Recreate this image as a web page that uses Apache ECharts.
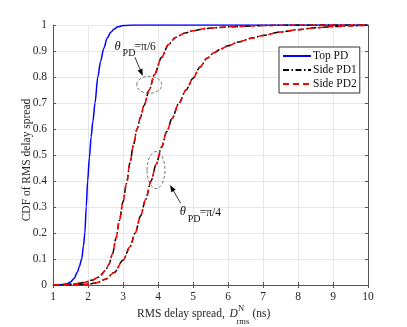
<!DOCTYPE html>
<html>
<head>
<meta charset="utf-8">
<script src="https://cdn.jsdelivr.net/npm/echarts@6/dist/echarts.min.js"></script>
<style>
html,body{margin:0;padding:0;background:#fff;}
#c{width:407px;height:327px;}
</style>
</head>
<body>
<div id="c"></div>
<script>
// ---- data ----
const seriesNames = ['Top PD', 'Side PD1', 'Side PD2'];
const xTickLabels = ['1','2','3','4','5','6','7','8','9','10'];
const yTickLabels = ['0','0.1','0.2','0.3','0.4','0.5','0.6','0.7','0.8','0.9','1'];

const topX = [1, 1.2, 1.4, 1.5, 1.6, 1.7, 1.75, 1.82, 1.87, 1.91, 1.95, 1.99, 2.04, 2.09, 2.14, 2.2, 2.28, 2.36, 2.45, 2.55, 2.65, 2.75, 2.85, 3.0, 3.3, 10];
const topY = [0, 0.001, 0.005, 0.012, 0.025, 0.05, 0.07, 0.1, 0.15, 0.2, 0.3, 0.4, 0.49, 0.57, 0.63, 0.7, 0.8, 0.86, 0.91, 0.95, 0.972, 0.985, 0.993, 0.998, 1, 1];

const pi6X = [1, 1.3, 1.6, 1.9, 2.1, 2.3, 2.5, 2.6, 2.7, 2.8, 2.9, 3.0, 3.1, 3.2, 3.3, 3.4, 3.5, 3.6, 3.75, 3.9, 4.1, 4.3, 4.5, 4.75, 5.0, 5.4, 6.0, 7.0, 8.0, 10];
const pi6Y = [0, 0.001, 0.004, 0.01, 0.018, 0.03, 0.055, 0.08, 0.12, 0.18, 0.25, 0.32, 0.39, 0.47, 0.54, 0.6, 0.645, 0.69, 0.75, 0.81, 0.875, 0.925, 0.952, 0.968, 0.978, 0.987, 0.993, 0.998, 1, 1];

const pi4X = [1, 1.5, 2.0, 2.25, 2.5, 2.75, 3.0, 3.2, 3.35, 3.5, 3.65, 3.8, 3.95, 4.1, 4.25, 4.4, 4.6, 4.8, 5.0, 5.2, 5.4, 5.6, 5.8, 6.0, 6.3, 6.7, 7.0, 7.5, 8.0, 8.5, 9.0, 9.5, 10];
const pi4Y = [0, 0.0005, 0.003, 0.009, 0.022, 0.048, 0.095, 0.147, 0.2, 0.265, 0.33, 0.4, 0.465, 0.53, 0.59, 0.64, 0.7, 0.75, 0.795, 0.838, 0.872, 0.893, 0.908, 0.92, 0.935, 0.95, 0.96, 0.973, 0.982, 0.989, 0.994, 0.997, 0.999];

const pairs = (xs, ys) => xs.map((x, i) => [x, ys[i]]);

const FONT = 'Liberation Serif';
const chart = echarts.init(document.getElementById('c'), null, {renderer: 'canvas'});

const axisCol = '#555';
const baseX = {
  type: 'value', min: 1, max: 10, interval: 1,
  axisLine: {show: true, lineStyle: {color: axisCol, width: 1}},
  axisTick: {show: true, inside: true, length: 3, lineStyle: {color: axisCol}},
};
const baseY = {
  type: 'value', min: 0, max: 1, interval: 0.1,
  axisLine: {show: true, lineStyle: {color: axisCol, width: 1}},
  axisTick: {show: true, inside: true, length: 3, lineStyle: {color: axisCol}},
};

const lineSeries = (name, data, color, type, z) => ({
  name, type: 'line', data, symbol: 'none', showSymbol: false, smooth: 0.3, smoothMonotone: 'x',
  lineStyle: {color, width: 1.5, type}, itemStyle: {color}, z, animation: false
});

chart.setOption({
  animation: false,
  backgroundColor: '#fff',
  grid: {left: 53, right: 39, top: 25, bottom: 42},
  xAxis: [
    Object.assign({}, baseX, {
      position: 'bottom',
      axisLabel: {fontFamily: FONT, fontSize: 11.5, color: '#262626', margin: 6,
        formatter: v => xTickLabels[Math.round(v) - 1]},
      splitLine: {show: true, lineStyle: {color: '#e6e6e6', width: 1}}
    }),
    Object.assign({}, baseX, {position: 'top', axisLabel: {show: false}, splitLine: {show: false}})
  ],
  yAxis: [
    Object.assign({}, baseY, {
      position: 'left',
      axisLabel: {fontFamily: FONT, fontSize: 11.5, color: '#262626', margin: 6,
        formatter: v => yTickLabels[Math.round(v * 10)]},
      splitLine: {show: true, lineStyle: {color: '#e6e6e6', width: 1}}
    }),
    Object.assign({}, baseY, {position: 'right', axisLabel: {show: false}, splitLine: {show: false}})
  ],
  legend: {
    data: seriesNames,
    orient: 'vertical',
    left: 279, top: 47,
    padding: [3, 3, 3, 3],
    itemGap: 2,
    itemWidth: 28, itemHeight: 12,
    backgroundColor: '#fff',
    borderColor: '#333', borderWidth: 1, borderRadius: 0,
    itemStyle: {opacity: 0, borderWidth: 0},
    textStyle: {fontFamily: FONT, fontSize: 11.5, color: '#111', padding: [0, 0, 0, -3]}
  },
  series: [
    lineSeries(seriesNames[0], pairs(topX, topY), '#0000ff', 'solid', 2),
    lineSeries(seriesNames[1], pairs(pi6X, pi6Y), '#000000', [6, 2.5, 1.5, 2.5], 3),
    lineSeries(seriesNames[1], pairs(pi4X, pi4Y), '#000000', [6, 2.5, 1.5, 2.5], 3),
    lineSeries(seriesNames[2], pairs(pi6X, pi6Y), '#ff0000', [6, 4], 4),
    lineSeries(seriesNames[2], pairs(pi4X, pi4Y), '#ff0000', [6, 4], 4)
  ]
});

// ---- annotations (anchored in data coordinates) ----
const P = (x, y) => chart.convertToPixel({gridIndex: 0}, [x, y]);

function arrow(tail, head) {
  const a = P(tail[0], tail[1]), b = P(head[0], head[1]);
  const dx = b[0] - a[0], dy = b[1] - a[1];
  const L = Math.sqrt(dx * dx + dy * dy), ux = dx / L, uy = dy / L;
  const len = 7, hw = 2.6;
  const bx = b[0] - ux * len, by = b[1] - uy * len;
  return [
    {type: 'line', shape: {x1: a[0], y1: a[1], x2: bx, y2: by}, style: {stroke: '#000', lineWidth: 0.8}, z: 100},
    {type: 'polygon', shape: {points: [[b[0], b[1]], [bx - uy * hw, by + ux * hw], [bx + uy * hw, by - ux * hw]]},
      style: {fill: '#000'}, z: 100}
  ];
}
function ellipse(c, rx, ry) {
  const p = P(c[0], c[1]);
  return {type: 'ellipse', shape: {cx: p[0], cy: p[1], rx, ry},
    style: {fill: 'none', stroke: '#555', lineWidth: 0.8, lineDash: [3, 2]}, z: 100};
}
function label(anchor, frac) {
  const p = P(anchor[0], anchor[1]);
  return [
    {type: 'text', x: p[0], y: p[1], style: {text: 'θ', font: 'italic 12.5px "Liberation Serif"', fill: '#111', textVerticalAlign: 'middle'}, z: 100},
    {type: 'text', x: p[0] + 8, y: p[1] + 7.5, style: {text: 'PD', font: '10px "Liberation Serif"', fill: '#111', textVerticalAlign: 'middle'}, z: 100},
    {type: 'text', x: p[0] + 20, y: p[1] + 0.8, style: {text: '=π/' + frac, font: '11.5px "Liberation Serif"', fill: '#111', textVerticalAlign: 'middle'}, z: 100}
  ];
}

const g = [];
g.push(ellipse([3.75, 0.77], 12.5, 8.5));
g.push(...arrow([3.343, 0.876], [3.563, 0.804]));
g.push(...label([2.76, 0.918], '6'));
g.push(ellipse([3.943, 0.442], 9, 18.5));
g.push(...arrow([4.649, 0.314], [4.343, 0.385]));
g.push(...label([4.62, 0.281], '4'));

// axis titles
g.push({type: 'text', x: 27, y: 160, rotation: Math.PI / 2,
  style: {text: 'CDF of RMS delay spread', font: '11.5px "Liberation Serif"', fill: '#262626', textAlign: 'center', textVerticalAlign: 'middle'}});
g.push({type: 'text', x: 137, y: 314, style: {text: 'RMS delay spread,', font: '11.5px "Liberation Serif"', fill: '#262626', textVerticalAlign: 'middle'}});
g.push({type: 'text', x: 229.5, y: 314, style: {text: 'D', font: 'italic 11.5px "Liberation Serif"', fill: '#262626', textVerticalAlign: 'middle'}});
g.push({type: 'text', x: 238, y: 309, style: {text: 'N', font: '8.5px "Liberation Serif"', fill: '#262626', textVerticalAlign: 'middle'}});
g.push({type: 'text', x: 236.5, y: 321.5, style: {text: 'rms', font: '8.5px "Liberation Serif"', fill: '#262626', textVerticalAlign: 'middle'}});
g.push({type: 'text', x: 252.5, y: 314, style: {text: '(ns)', font: '11.5px "Liberation Serif"', fill: '#262626', textVerticalAlign: 'middle'}});

chart.setOption({graphic: g});
</script>
</body>
</html>
